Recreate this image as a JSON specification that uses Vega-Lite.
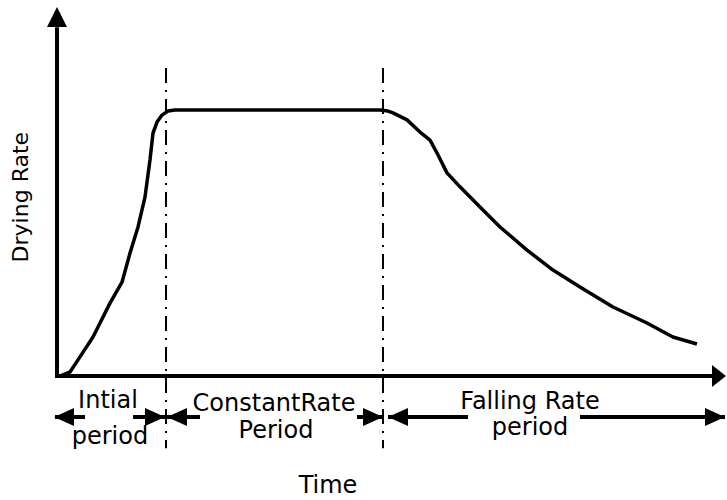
{
  "$schema": "https://vega.github.io/schema/vega-lite/v6.json",
  "width": 668,
  "height": 368,
  "autosize": "none",
  "padding": {"left": 57, "top": 8, "right": 2, "bottom": 124},
  "background": "white",
  "config": {
    "view": {"stroke": null},
    "text": {"font": "DejaVu Sans", "fontSize": 24, "color": "black"}
  },
  "datasets": {
    "curve": [
      {"time": 0.45, "rate": 0},
      {"time": 1.95, "rate": 1.1},
      {"time": 3.44, "rate": 5.2},
      {"time": 5.39, "rate": 10.6},
      {"time": 7.93, "rate": 19.8},
      {"time": 9.73, "rate": 25.5},
      {"time": 10.93, "rate": 33.4},
      {"time": 12.13, "rate": 40.5},
      {"time": 13.17, "rate": 48.6},
      {"time": 13.92, "rate": 58.7},
      {"time": 14.37, "rate": 66.0},
      {"time": 14.97, "rate": 69.0},
      {"time": 15.72, "rate": 70.9},
      {"time": 16.62, "rate": 72.0},
      {"time": 17.66, "rate": 72.3},
      {"time": 48.35, "rate": 72.3},
      {"time": 49.55, "rate": 72.0},
      {"time": 50.3, "rate": 71.5},
      {"time": 52.4, "rate": 69.6},
      {"time": 54.34, "rate": 66.3},
      {"time": 55.84, "rate": 64.1},
      {"time": 56.89, "rate": 60.6},
      {"time": 58.38, "rate": 55.2},
      {"time": 60.33, "rate": 51.4},
      {"time": 63.32, "rate": 45.9},
      {"time": 66.32, "rate": 40.5},
      {"time": 70.36, "rate": 34.2},
      {"time": 74.25, "rate": 28.8},
      {"time": 78.29, "rate": 24.2},
      {"time": 83.23, "rate": 18.75},
      {"time": 88.32, "rate": 14.4},
      {"time": 92.2, "rate": 10.6},
      {"time": 95.8, "rate": 8.7}
    ],
    "boundaries": [
      {"time": 16.32, "top": 83.7, "bottom": -19.6},
      {"time": 48.8, "top": 83.7, "bottom": -19.6}
    ],
    "axisLines": [
      {"x": 0, "x2": 0, "y": -0.5, "y2": 94.8},
      {"x": -0.3, "x2": 98.2, "y": 0, "y2": 0}
    ],
    "heads": [
      {"x": 0, "y": 97.55, "kind": "axis-up"},
      {"x": 99.1, "y": 0, "kind": "axis-right"},
      {"x": 1.05, "y": -11.14, "kind": "span-left"},
      {"x": 14.67, "y": -11.14, "kind": "span-right"},
      {"x": 17.96, "y": -11.14, "kind": "span-left"},
      {"x": 47.31, "y": -11.14, "kind": "span-right"},
      {"x": 51.05, "y": -11.14, "kind": "span-left"},
      {"x": 98.5, "y": -11.14, "kind": "span-right"}
    ],
    "spans": [
      {"from": -0.3, "to": 4.19, "y": -11.14},
      {"from": 11.38, "to": 16.17, "y": -11.14},
      {"from": 16.47, "to": 21.41, "y": -11.14},
      {"from": 44.91, "to": 48.8, "y": -11.14},
      {"from": 49.55, "to": 61.53, "y": -11.14},
      {"from": 78.29, "to": 100, "y": -11.14}
    ],
    "labels": [
      {"x": 7.63, "y": -8.7, "text": "Intial"},
      {"x": 7.93, "y": -18.5, "text": "period"},
      {"x": 32.49, "y": -9.5, "text": "ConstantRate"},
      {"x": 32.78, "y": -16.85, "text": "Period"},
      {"x": 70.81, "y": -9.0, "text": "Falling Rate"},
      {"x": 70.81, "y": -16.0, "text": "period"},
      {"x": 40.57, "y": -31.8, "text": "Time"}
    ]
  },
  "layer": [
    {
      "data": {"name": "boundaries"},
      "mark": {"type": "rule", "color": "black", "strokeWidth": 2, "strokeDash": [15, 7, 2, 7], "clip": false},
      "encoding": {
        "x": {"field": "time", "type": "quantitative", "scale": {"domain": [0, 100], "nice": false, "zero": false}, "axis": null},
        "y": {"field": "top", "type": "quantitative", "scale": {"domain": [0, 100], "nice": false, "zero": false}, "axis": null},
        "y2": {"field": "bottom"}
      }
    },
    {
      "data": {"name": "axisLines"},
      "mark": {"type": "rule", "color": "black", "strokeWidth": 4, "clip": false},
      "encoding": {
        "x": {"field": "x", "type": "quantitative"},
        "x2": {"field": "x2"},
        "y": {"field": "y", "type": "quantitative"},
        "y2": {"field": "y2"}
      }
    },
    {
      "data": {"name": "spans"},
      "mark": {"type": "rule", "color": "black", "strokeWidth": 4, "clip": false},
      "encoding": {
        "x": {"field": "from", "type": "quantitative"},
        "x2": {"field": "to"},
        "y": {"field": "y", "type": "quantitative"}
      }
    },
    {
      "data": {"name": "heads"},
      "mark": {"type": "point", "filled": true, "color": "black", "opacity": 1, "size": 400, "strokeWidth": 0, "clip": false},
      "encoding": {
        "x": {"field": "x", "type": "quantitative"},
        "y": {"field": "y", "type": "quantitative"},
        "shape": {
          "field": "kind",
          "type": "nominal",
          "scale": {
            "domain": ["axis-up", "axis-right", "span-left", "span-right"],
            "range": ["M0,-1L1,1L-1,1Z", "M0.7,0L-0.7,-1.1L-0.7,1.1Z", "M-1,0L1,-0.9L1,0.9Z", "M1,0L-1,-0.9L-1,0.9Z"]
          },
          "legend": null
        }
      }
    },
    {
      "data": {"name": "curve"},
      "mark": {"type": "line", "color": "black", "strokeWidth": 3.5, "strokeJoin": "round", "clip": false},
      "encoding": {
        "x": {"field": "time", "type": "quantitative"},
        "y": {"field": "rate", "type": "quantitative"}
      }
    },
    {
      "data": {"name": "labels"},
      "mark": {"type": "text", "align": "center", "baseline": "alphabetic"},
      "encoding": {
        "x": {"field": "x", "type": "quantitative"},
        "y": {"field": "y", "type": "quantitative"},
        "text": {"field": "text"}
      }
    },
    {
      "data": {"values": [{"x": -4.34, "y": 48.6, "text": "Drying Rate"}]},
      "mark": {"type": "text", "align": "center", "baseline": "alphabetic", "angle": 270, "fontSize": 22},
      "encoding": {
        "x": {"field": "x", "type": "quantitative"},
        "y": {"field": "y", "type": "quantitative"},
        "text": {"field": "text"}
      }
    }
  ]
}
